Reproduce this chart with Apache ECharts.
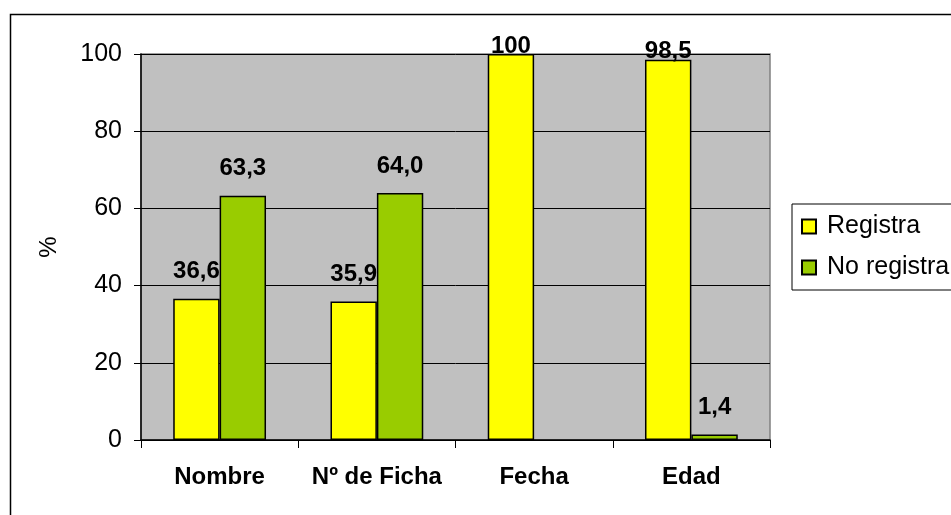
<!DOCTYPE html>
<html>
<head>
<meta charset="utf-8">
<script src="https://cdn.jsdelivr.net/npm/echarts@6/dist/echarts.min.js"></script>
<style>
  html, body { margin: 0; padding: 0; background: #fff; }
  #chart { width: 951px; height: 515px; }
</style>
</head>
<body>
<div id="chart"></div>
<script>
const categories = ['Nombre', 'Nº de Ficha', 'Fecha', 'Edad']
const registra = [36.6, 35.9, 100, 98.5]
const noRegistra = [63.3, 64.0, null, 1.4]
const yTicks = { min: 0, max: 100, interval: 20 }

const fmt = v => (v === 100 ? '100' : v.toFixed(1).replace('.', ','))

// labels near the top of the plot overlap the bar a little
const toItems = arr => arr.map(v => ({
  value: v,
  label: { distance: v !== null && v > 95 ? -4 : 15 }
}))

const labelStyle = {
  show: true,
  position: 'top',
  fontFamily: 'Liberation Sans',
  fontSize: 24,
  fontWeight: 'bold',
  color: '#000',
  formatter: p => (p.value === null || p.value === undefined ? '' : fmt(p.value))
}

const chart = echarts.init(document.getElementById('chart'))
chart.setOption({
  animation: false,
  textStyle: { fontFamily: 'Liberation Sans' },
  graphic: [
    {
      type: 'rect',
      left: 8, top: 12,
      shape: { width: 960, height: 520 },
      style: { fill: 'none', stroke: '#000', lineWidth: 1.5 },
      silent: true
    }
  ],
  grid: {
    left: 141, top: 54, right: 181, bottom: 75,
    show: true,
    backgroundColor: '#c0c0c0',
    borderColor: '#808080',
    borderWidth: 1.5
  },
  legend: {
    orient: 'vertical',
    left: 792, top: 204,
    padding: [10, 40, 10, 9],
    itemWidth: 14, itemHeight: 14,
    itemGap: 16,
    backgroundColor: '#fff',
    borderColor: '#000',
    borderWidth: 1,
    icon: 'rect',
    textStyle: { fontSize: 25, color: '#000', padding: [0, 0, 0, 6] },
    data: ['Registra', 'No registra']
  },
  xAxis: {
    type: 'category',
    data: categories,
    axisLine: { lineStyle: { color: '#000', width: 1.5 } },
    axisTick: { show: true, length: 8, interval: 0, lineStyle: { color: '#000' } },
    axisLabel: { fontSize: 24, fontWeight: 'bold', color: '#000', margin: 25, interval: 0 }
  },
  yAxis: {
    type: 'value',
    min: yTicks.min, max: yTicks.max, interval: yTicks.interval,
    name: '%',
    nameLocation: 'middle',
    nameGap: 80,
    nameTextStyle: { fontSize: 24, color: '#000' },
    axisLine: { show: true, lineStyle: { color: '#000', width: 1.5 } },
    axisTick: { show: true, length: 7, lineStyle: { color: '#000' } },
    axisLabel: { fontSize: 25, color: '#000', margin: 19 },
    splitLine: { show: true, lineStyle: { color: '#000', width: 1 } }
  },
  series: [
    {
      name: 'Registra',
      type: 'bar',
      data: toItems(registra),
      barGap: '0%',
      barCategoryGap: '41%',
      itemStyle: { color: '#ffff00', borderColor: '#000', borderWidth: 1.5 },
      label: labelStyle
    },
    {
      name: 'No registra',
      type: 'bar',
      data: toItems(noRegistra),
      itemStyle: { color: '#99cc00', borderColor: '#000', borderWidth: 1.5 },
      label: labelStyle
    }
  ]
})
</script>
</body>
</html>
